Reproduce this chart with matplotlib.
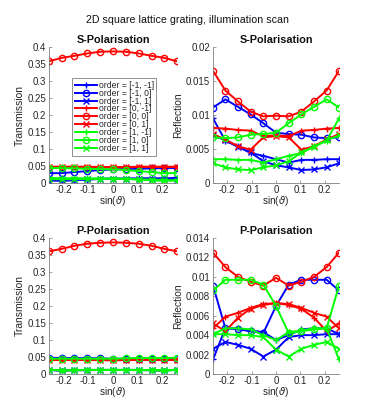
import matplotlib
matplotlib.use("Agg")
import matplotlib.pyplot as plt

plt.rcParams['font.family'] = ['Liberation Sans', 'DejaVu Sans']
plt.rcParams['mathtext.fontset'] = 'dejavusans'

# sin(theta), theta = -15..15 deg in 3 deg steps
sin_theta = [-0.2588, -0.2079, -0.1564, -0.1045, -0.0523, 0.0,
             0.0523, 0.1045, 0.1564, 0.2079, 0.2588]

orders = ['[-1, -1]', '[-1, 0]', '[-1, 1]', '[0, -1]', '[0, 0]', '[0, 1]',
          '[1, -1]', '[1, 0]', '[1, 1]']
colors = ['b', 'b', 'b', 'r', 'r', 'r', 'g', 'g', 'g']
colors = [{'b': (0, 0, 1), 'r': (1, 0, 0), 'g': (0, 1, 0)}[c] for c in colors]
markers = ['+', 'o', 'x', '+', 'o', 'x', '+', 'o', 'x']

### S-polarisation, transmission
trans_s = [
    [0.008, 0.006, 0.008, 0.010, 0.012, 0.013, 0.013, 0.014, 0.014, 0.014, 0.015],
    [0.029, 0.029, 0.032, 0.035, 0.038, 0.040, 0.041, 0.042, 0.043, 0.044, 0.044],
    [0.007, 0.009, 0.010, 0.011, 0.012, 0.013, 0.012, 0.012, 0.011, 0.011, 0.011],
    [0.047, 0.047, 0.047, 0.047, 0.046, 0.046, 0.046, 0.047, 0.047, 0.047, 0.047],
    [0.358, 0.368, 0.374, 0.381, 0.386, 0.387, 0.386, 0.381, 0.374, 0.368, 0.358],
    [0.048, 0.048, 0.048, 0.048, 0.047, 0.047, 0.047, 0.048, 0.048, 0.048, 0.048],
    [0.015, 0.014, 0.014, 0.014, 0.013, 0.013, 0.012, 0.010, 0.008, 0.006, 0.008],
    [0.044, 0.044, 0.043, 0.042, 0.041, 0.040, 0.038, 0.035, 0.032, 0.029, 0.029],
    [0.011, 0.011, 0.011, 0.012, 0.012, 0.013, 0.012, 0.011, 0.010, 0.009, 0.007],
]

### S-polarisation, reflection
refl_s = [
    [0.0095, 0.0062, 0.0054, 0.0044, 0.0040, 0.0035, 0.0030, 0.0034, 0.0034, 0.0035, 0.0035],
    [0.0111, 0.0123, 0.0112, 0.0101, 0.0088, 0.0074, 0.0072, 0.0071, 0.0067, 0.0066, 0.0067],
    [0.0070, 0.0063, 0.0053, 0.0045, 0.0032, 0.0026, 0.0023, 0.0019, 0.0020, 0.0023, 0.0029],
    [0.0081, 0.0080, 0.0078, 0.0077, 0.0069, 0.0070, 0.0069, 0.0077, 0.0078, 0.0080, 0.0081],
    [0.0165, 0.0136, 0.0120, 0.0105, 0.0098, 0.0099, 0.0098, 0.0105, 0.0120, 0.0136, 0.0165],
    [0.0072, 0.0064, 0.0054, 0.0049, 0.0067, 0.0069, 0.0067, 0.0049, 0.0054, 0.0064, 0.0072],
    [0.0035, 0.0035, 0.0034, 0.0034, 0.0030, 0.0035, 0.0040, 0.0044, 0.0054, 0.0062, 0.0095],
    [0.0067, 0.0066, 0.0067, 0.0071, 0.0072, 0.0074, 0.0088, 0.0101, 0.0112, 0.0123, 0.0111],
    [0.0029, 0.0023, 0.0020, 0.0019, 0.0023, 0.0026, 0.0032, 0.0045, 0.0053, 0.0063, 0.0070],
]

### P-polarisation, transmission
trans_p = [
    [0.012, 0.009, 0.011, 0.011, 0.012, 0.012, 0.012, 0.012, 0.011, 0.010, 0.013],
    [0.048, 0.047, 0.047, 0.047, 0.046, 0.045, 0.045, 0.045, 0.045, 0.045, 0.045],
    [0.012, 0.012, 0.012, 0.012, 0.012, 0.012, 0.012, 0.012, 0.011, 0.011, 0.012],
    [0.041, 0.041, 0.041, 0.041, 0.041, 0.040, 0.041, 0.041, 0.041, 0.041, 0.041],
    [0.361, 0.368, 0.377, 0.383, 0.386, 0.387, 0.386, 0.383, 0.377, 0.368, 0.361],
    [0.042, 0.042, 0.042, 0.042, 0.042, 0.041, 0.042, 0.042, 0.042, 0.042, 0.042],
    [0.013, 0.010, 0.011, 0.012, 0.012, 0.012, 0.012, 0.011, 0.011, 0.009, 0.012],
    [0.045, 0.045, 0.045, 0.045, 0.045, 0.045, 0.046, 0.047, 0.047, 0.047, 0.048],
    [0.012, 0.011, 0.011, 0.012, 0.012, 0.012, 0.012, 0.012, 0.012, 0.012, 0.012],
]

### P-polarisation, reflection
refl_p = [
    [0.0015, 0.0047, 0.0047, 0.0045, 0.0043, 0.0035, 0.0040, 0.0046, 0.0047, 0.0047, 0.0041],
    [0.0091, 0.0047, 0.0046, 0.0044, 0.0042, 0.0070, 0.0092, 0.0097, 0.0097, 0.0097, 0.0086],
    [0.0026, 0.0033, 0.0030, 0.0026, 0.0018, 0.0025, 0.0038, 0.0040, 0.0040, 0.0041, 0.0041],
    [0.0047, 0.0059, 0.0063, 0.0068, 0.0072, 0.0073, 0.0071, 0.0067, 0.0058, 0.0044, 0.0052],
    [0.0125, 0.0110, 0.0100, 0.0095, 0.0091, 0.0099, 0.0091, 0.0095, 0.0100, 0.0110, 0.0125],
    [0.0052, 0.0044, 0.0058, 0.0067, 0.0071, 0.0073, 0.0072, 0.0068, 0.0063, 0.0059, 0.0047],
    [0.0041, 0.0047, 0.0047, 0.0046, 0.0040, 0.0035, 0.0043, 0.0045, 0.0047, 0.0047, 0.0015],
    [0.0086, 0.0097, 0.0097, 0.0097, 0.0092, 0.0070, 0.0042, 0.0044, 0.0046, 0.0047, 0.0091],
    [0.0041, 0.0041, 0.0040, 0.0040, 0.0038, 0.0025, 0.0018, 0.0026, 0.0030, 0.0033, 0.0026],
]

yticks_t = [0, 0.05, 0.1, 0.15, 0.2, 0.25, 0.3, 0.35, 0.4]
yticks_rs = [0, 0.005, 0.01, 0.015, 0.02]
yticks_rp = [0, 0.002, 0.004, 0.006, 0.008, 0.01, 0.012, 0.014]
xticks = [-0.2, -0.1, 0, 0.1, 0.2]

W, H = 374, 400
fig = plt.figure(figsize=(W / 100, H / 100), dpi=100)
fig.text(0.5, 1 - 20 / H, '2D square lattice grating, illumination scan',
         ha='center', va='center', fontsize=7.7, color='#111111')

boxes = {
    'ts': [49, 47, 128, 136], 'rs': [213, 47, 126, 136],
    'tp': [49, 238, 128, 136], 'rp': [213, 238, 126, 136],
}

def make_ax(key, data, yticks, ylabel, title, legend=False):
    l, t, w, h = boxes[key]
    ax = fig.add_axes([l / W, 1 - (t + h) / H, w / W, h / H])
    for i in range(len(orders)):
        ax.plot(sin_theta, data[i], color=colors[i], marker=markers[i],
                markersize=4.5, markerfacecolor='none', markeredgewidth=1.0,
                linewidth=1.4, label='order = ' + orders[i])
    ax.set_xlim(sin_theta[0], sin_theta[-1])
    ax.set_ylim(yticks[0], yticks[-1])
    ax.set_xticks(xticks)
    ax.set_xticklabels(['-0.2', '-0.1', '0', '0.1', '0.2'])
    ax.set_yticks(yticks)
    ax.set_yticklabels(['%g' % v for v in yticks])
    for s in ['top', 'right']:
        ax.spines[s].set_visible(False)
    for s in ['left', 'bottom']:
        ax.spines[s].set_color('#7f7f7f')
        ax.spines[s].set_linewidth(0.6)
    ax.tick_params(direction='in', length=2.5, width=0.5, color='#7f7f7f',
                   labelsize=7, labelcolor='#262626', pad=2)
    ax.tick_params(axis='x', pad=1.5)
    ax.set_title(title, fontsize=7.8, fontweight='bold', pad=3, color='#111111')
    ax.set_ylabel(ylabel, fontsize=7.4, color='#262626', labelpad=2)
    ax.set_xlabel(r'sin($\vartheta$)', fontsize=7.2, color='#262626', labelpad=-0.5)
    if legend:
        leg = ax.legend(loc='upper left', bbox_to_anchor=(23 / w, 1 - 31 / h),
                        fontsize=6.2, handlelength=2.6, handletextpad=0.2,
                        labelspacing=-0.12, borderpad=0.3, borderaxespad=0,
                        fancybox=False, framealpha=1, edgecolor='#7f7f7f')
        leg.get_frame().set_linewidth(0.6)
        for txt in leg.get_texts():
            txt.set_color('#262626')
    return ax

make_ax('ts', trans_s, yticks_t, 'Transmission', 'S-Polarisation', legend=True)
make_ax('rs', refl_s, yticks_rs, 'Reflection', 'S-Polarisation')
make_ax('tp', trans_p, yticks_t, 'Transmission', 'P-Polarisation')
make_ax('rp', refl_p, yticks_rp, 'Reflection', 'P-Polarisation')

fig.savefig('out.png', dpi=100)
